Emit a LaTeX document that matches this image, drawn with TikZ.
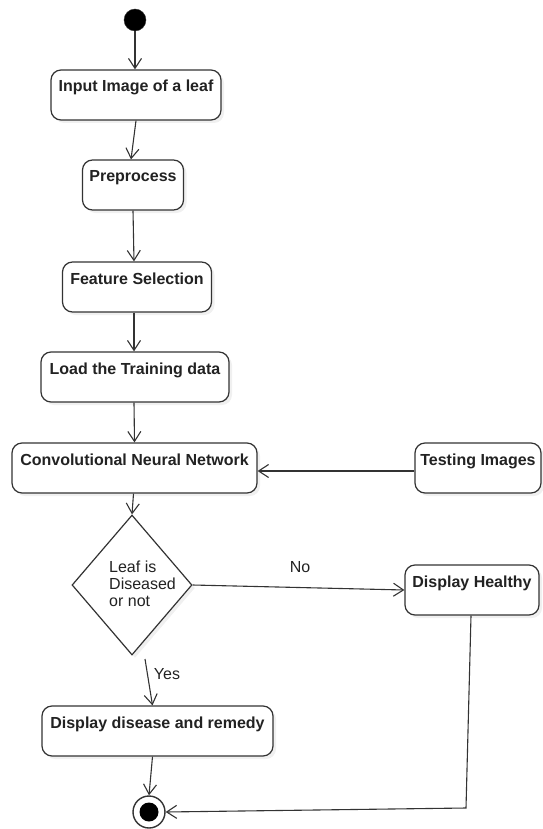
\documentclass[tikz,border=0pt]{standalone}
\usepackage{fontspec}
\setmainfont{Liberation Sans}
\usetikzlibrary{arrows.meta,shapes.geometric,shadows}
\definecolor{ln}{HTML}{333333}
\definecolor{tx}{HTML}{222222}
\begin{document}
\begin{tikzpicture}[x=1pt,y=-1pt,
  act/.style={draw=ln, line width=1.2pt, rounded corners=10pt, fill=white,
    rectangle, inner sep=0pt, minimum height=50pt, text height=22pt, text depth=28pt,
    font=\fontsize{16}{17}\selectfont\bfseries, text=tx, align=center,
    drop shadow={opacity=0.12, shadow xshift=3pt, shadow yshift=-3pt}},
  flow/.style={draw=ln, line width=1.1pt, -{Straight Barb[length=10pt,width=13pt,line width=1.1pt]}},
  lbl/.style={font=\fontsize{16}{17}\selectfont, text=tx, inner sep=0pt}]
\useasboundingbox (0,0) rectangle (542,829);
% start
\node[circle, fill=black, draw=ln, minimum size=22pt, inner sep=0pt] (start) at (135,20) {};
% activities
\node[act, minimum width=170pt] (input) at (136,95) {Input Image of a leaf};
\node[act, minimum width=101pt] (prep) at (133,185) {Preprocess};
\node[act, minimum width=149pt] (feat) at (137,287) {Feature Selection};
\node[act, minimum width=188pt] (load) at (135,377) {Load the Training data};
\node[act, minimum width=245pt] (cnn) at (134.5,468) {Convolutional Neural Network};
\node[act, minimum width=126pt] (test) at (478,468) {Testing Images};
\node[act, minimum width=134pt] (healthy) at (472,590) {Display Healthy};
\node[act, minimum width=231pt] (disease) at (157.5,731) {Display disease and remedy};
% decision
\node[diamond, draw=ln, line width=1.2pt, fill=white, inner sep=0pt, minimum width=120pt, minimum height=140pt,
  drop shadow={opacity=0.12, shadow xshift=3pt, shadow yshift=-3pt}] (dec) at (132,585) {};
\node[lbl, anchor=west, align=left] (dtext) at (109,584) {Leaf is\\Diseased\\or not};
% end
\node[circle, draw=ln, line width=1.4pt, fill=white, minimum size=32pt, inner sep=0pt] (end) at (149,812) {};
\node[circle, fill=black, minimum size=19pt, inner sep=0pt] (endin) at (end.center) {};
% connectors
\draw[flow] (start) -- (input.north -| start);
\draw[flow] (input.south) -- ([xshift=-2pt]prep.north);
\draw[flow] (prep.south) -- ([xshift=-3pt]feat.north);
\draw[flow] ([xshift=-3pt]feat.south) -- ([xshift=-1pt]load.north);
\draw[flow] ([xshift=-1pt]load.south) -- (cnn.north);
\draw[flow] ([xshift=-1pt]cnn.south) -- (dec.north);
\draw[flow] ([yshift=-3pt]test.west) -- ([yshift=-3pt]cnn.east);
\draw[flow] (dec.east) -- (healthy.west);
\coordinate (ys) at (145,659);
\draw[flow] (ys) -- ([xshift=-5pt]disease.north);
\draw[flow] ([xshift=-5pt]disease.south) -- (end.north);
\coordinate (hc) at (466,808);
\draw[flow] ([xshift=-1pt]healthy.south) -- (hc) -- (end.east);
% labels
\node[lbl] (no) at (300,567) {No};
\node[lbl] (yes) at (167,674) {Yes};
\end{tikzpicture}
\end{document}
